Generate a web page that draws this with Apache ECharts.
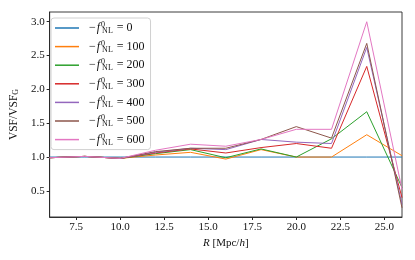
<!DOCTYPE html>
<html>
<head>
<meta charset="utf-8">
<script src="https://cdn.jsdelivr.net/npm/echarts@6/dist/echarts.min.js"></script>
<style>html,body{margin:0;padding:0;background:#fff}#c{width:415px;height:260px}</style>
</head>
<body>
<div id="c"></div>
<script>
const radii = [6, 8, 10, 12, 14, 16, 18, 20, 22, 24, 26];
const fnlValues = [0, 100, 200, 300, 400, 500, 600];
const vsf0   = [1.0, 1.0, 1.0, 1.0, 1.0, 1.0, 1.0, 1.0, 1.0, 1.0, 1.0];
const vsf100 = [0.99, 1.01, 0.98, 1.03, 1.07, 0.97, 1.11, 1.0, 1.0, 1.33, 1.02];
const vsf200 = [0.99, 1.01, 0.98, 1.05, 1.11, 0.99, 1.12, 1.0, 1.27, 1.67, 0.55];
const vsf300 = [0.99, 1.01, 0.98, 1.06, 1.12, 1.06, 1.14, 1.2, 1.13, 2.34, 0.4];
const vsf400 = [0.99, 1.01, 0.98, 1.07, 1.13, 1.11, 1.26, 1.22, 1.2, 2.62, 0.3];
const vsf500 = [0.99, 1.01, 0.98, 1.08, 1.13, 1.13, 1.26, 1.45, 1.28, 2.68, 0.25];
const vsf600 = [0.99, 1.01, 0.98, 1.1, 1.19, 1.16, 1.26, 1.41, 1.41, 3.0, 0.52];
const xTicks = [7.5, 10, 12.5, 15, 17.5, 20, 22.5, 25];
const yTicks = [0.5, 1.0, 1.5, 2.0, 2.5, 3.0];

const allSeries = [vsf0, vsf100, vsf200, vsf300, vsf400, vsf500, vsf600];
const colors = ['#1f77b4', '#ff7f0e', '#2ca02c', '#d62728', '#9467bd', '#8c564b', '#e377c2'];
const FONT = 'Liberation Serif';

const chart = echarts.init(document.getElementById('c'), null, {renderer: 'canvas'});
const names = fnlValues.map(v => 'f' + v);
const option = {
  animation: false,
  color: colors,
  grid: {left: 46, right: 13, top: 12, bottom: 43, show: true, borderColor: '#262626', borderWidth: 0.9, backgroundColor: 'transparent'},
  legend: {
    orient: 'vertical', left: 51, top: 18,
    data: names.map(n => ({name: n, icon: 'rect'})),
    itemWidth: 24, itemHeight: 1.5, itemGap: 4.6,
    padding: [3, 6, 3, 4],
    backgroundColor: 'rgba(255,255,255,0.8)', borderColor: '#d0d0d0', borderWidth: 1, borderRadius: 3,
    formatter: function (name) {
      const v = name.slice(1);
      return '{p|−}{f|f}{sup|0}{sub|NL}{m| = ' + v + '}';
    },
    textStyle: {
      fontFamily: FONT, fontSize: 12, color: '#111', lineHeight: 14,
      rich: {
        p: {fontFamily: FONT, fontSize: 12, color: '#111', padding: [0, 1, 0, 5], lineHeight: 14},
        m: {fontFamily: FONT, fontSize: 12, color: '#111', lineHeight: 14},
        f: {fontFamily: FONT, fontSize: 12, fontStyle: 'italic', color: '#111', lineHeight: 14},
        sup: {fontFamily: FONT, fontSize: 8, color: '#111', verticalAlign: 'top', width: 0.01, padding: [0, 0, 0, 1], lineHeight: 14},
        sub: {fontFamily: FONT, fontSize: 8, color: '#111', verticalAlign: 'bottom', padding: [0, 1, 0, 1], lineHeight: 14}
      }
    }
  },
  xAxis: {
    type: 'value', min: 6, max: 26,
    name: '{i|R} [Mpc/{i|h}]', nameLocation: 'middle', nameGap: 18,
    nameTextStyle: {fontFamily: FONT, fontSize: 11, color: '#111',
      rich: {i: {fontFamily: FONT, fontSize: 11, fontStyle: 'italic', color: '#111'}}},
    axisLine: {show: true, lineStyle: {color: '#262626', width: 0.9}},
    axisTick: {show: true, length: 3, inside: false, customValues: xTicks, lineStyle: {color: '#262626'}},
    axisLabel: {customValues: xTicks, margin: 5, fontFamily: FONT, fontSize: 11, color: '#111', formatter: v => v.toFixed(1)},
    splitLine: {show: false}
  },
  yAxis: {
    type: 'value', min: 0.114, max: 3.144,
    name: 'VSF/VSF{s|G}', nameLocation: 'middle', nameGap: 25, nameRotate: 90,
    nameTextStyle: {fontFamily: FONT, fontSize: 11.5, color: '#111',
      rich: {s: {fontFamily: FONT, fontSize: 8, color: '#111', verticalAlign: 'bottom'}}},
    axisLine: {show: true, lineStyle: {color: '#262626', width: 0.9}},
    axisTick: {show: true, length: 3, inside: false, customValues: yTicks, lineStyle: {color: '#262626'}},
    axisLabel: {customValues: yTicks, margin: 5, fontFamily: FONT, fontSize: 11, color: '#111', formatter: v => v.toFixed(1)},
    splitLine: {show: false}
  },
  series: allSeries.map((arr, i) => ({
    name: names[i], type: 'line', showSymbol: false, symbol: 'none',
    data: radii.map((r, j) => [r, arr[j]]),
    lineStyle: {width: 1, color: colors[i]},
    itemStyle: {color: colors[i]},
    z: 2 + i
  }))
};
chart.setOption(option);
</script>
</body>
</html>
